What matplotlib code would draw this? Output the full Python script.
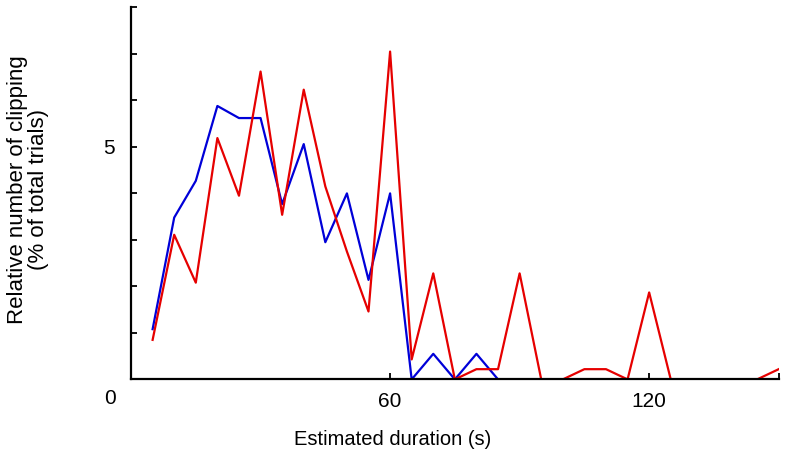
import matplotlib
matplotlib.use("Agg")
import matplotlib.pyplot as plt

plt.rcParams['font.family'] = ['Liberation Sans', 'DejaVu Sans']

# estimated duration bins (s)
duration = [5, 10, 15, 20, 25, 30, 35, 40, 45, 50, 55, 60, 65, 70, 75, 80, 85,
            90, 95, 100, 105, 110, 115, 120, 125, 130, 135, 140, 145, 150]

# blue series stops at 85 s
blue_clip = [1.08, 3.48, 4.27, 5.88, 5.62, 5.62, 3.77, 5.06, 2.95, 4.0, 2.14, 4.0,
             0.0, 0.55, 0.0, 0.55, 0.0]
red_clip = [0.85, 3.11, 2.08, 5.19, 3.95, 6.62, 3.54, 6.23, 4.15, 2.75, 1.46, 7.05,
            0.43, 2.28, 0.0, 0.22, 0.22, 2.28, 0.0, 0.0, 0.22, 0.22, 0.0, 1.87,
            0.0, 0.0, 0.0, 0.0, 0.0, 0.22]

x_ticks = [60, 120, 150]
x_labels = ['60', '120', '']
y_ticks = [0, 1, 2, 3, 4, 5, 6, 7, 8]
y_labels = ['', '', '', '', '', '5', '', '', '']

fig = plt.figure(figsize=(7.86, 4.61), dpi=100)
ax = fig.add_axes([0.1667, 0.177, 0.824, 0.807])

ax.plot(duration[:len(blue_clip)], blue_clip, color='#0000d8', lw=1.6)
ax.plot(duration, red_clip, color='#e60000', lw=1.6)

ax.set_xlim(0, 150)
ax.set_ylim(0, 8)
ax.set_xticks(x_ticks)
ax.set_xticklabels(x_labels)
ax.set_yticks(y_ticks)
ax.set_yticklabels(y_labels)
ax.tick_params(direction='in', length=4, width=1.3, labelsize=15)
ax.tick_params(axis='x', pad=9)
ax.tick_params(axis='y', pad=12)

for s in ['top', 'right']:
    ax.spines[s].set_visible(False)
for s in ['left', 'bottom']:
    ax.spines[s].set_linewidth(1.6)

# shared zero at the corner
ax.annotate('0', xy=(0, 0), xytext=(-15, -14), textcoords='offset points',
            ha='center', va='center', fontsize=15)

ax.set_xlabel('Estimated duration (s)', fontsize=14.5)
ax.xaxis.set_label_coords(0.404, -0.135)
ax.set_ylabel('Relative number of clipping\n(% of total trials)', fontsize=16,
              linespacing=1.0)
ax.yaxis.set_label_coords(-0.126, 0.51)

fig.savefig('out.png', dpi=100)
